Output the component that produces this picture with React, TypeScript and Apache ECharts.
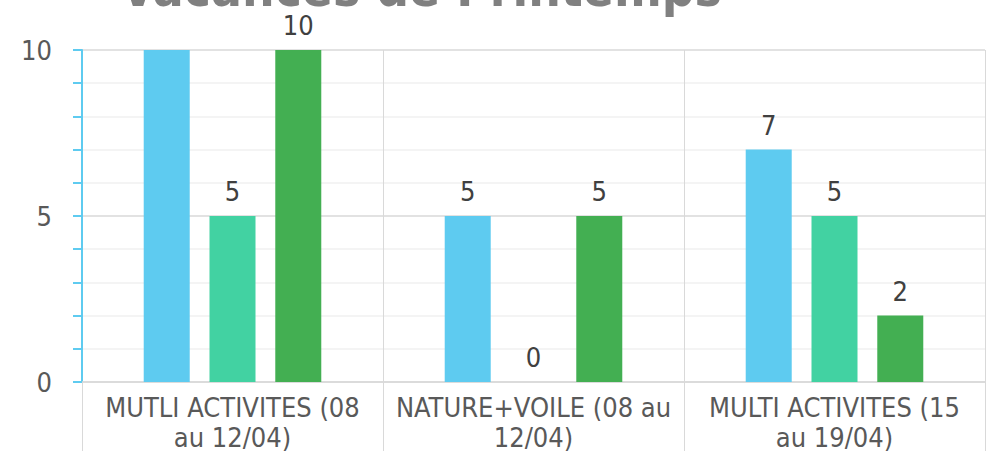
import React, { useEffect, useRef } from "react";
import * as echarts from "echarts";

const title = "Vacances de Printemps";
const categories = [
  "MUTLI ACTIVITES (08\nau 12/04)",
  "NATURE+VOILE (08 au\n12/04)",
  "MULTI ACTIVITES (15\nau 19/04)",
];
const seriesA = [10, 5, 7];
const seriesB = [5, 0, 5];
const seriesC = [10, 5, 2];
const colors = ["#5ECBF0", "#42D2A2", "#43AF52"];
const hiddenLabels = [[0, 0]]; // [seriesIndex, dataIndex] labels not visible in reference

const FONT = "'DejaVu Sans Condensed', 'DejaVu Sans', sans-serif";

export default function App() {
  const ref = useRef<HTMLDivElement>(null);
  useEffect(() => {
    if (!ref.current) return;
    const chart = echarts.init(ref.current, undefined, { renderer: "svg" });
    const all = [seriesA, seriesB, seriesC];
    chart.setOption({
      animation: false,
      grid: {
        left: 82,
        right: 14,
        top: 50,
        bottom: 69,
        containLabel: false,
        outerBoundsMode: "none",
      },
      graphic: [
        {
          type: "text",
          x: 421,
          y: -37,
          style: {
            text: title,
            font: `bold 51px ${FONT}`,
            fill: "#808080",
            align: "center",
            verticalAlign: "top",
          },
        },
      ],
      xAxis: {
        type: "category",
        data: categories,
        axisLine: { show: true, lineStyle: { color: "#d9d9d9", width: 1.5 } },
        axisTick: { show: true, length: 70, lineStyle: { color: "#d9d9d9" } },
        splitLine: { show: true, lineStyle: { color: "#d9d9d9" } },
        axisLabel: {
          color: "#595959",
          fontSize: 27,
          fontFamily: FONT,
          lineHeight: 30,
          margin: 10,
          interval: 0,
        },
      },
      yAxis: {
        type: "value",
        min: 0,
        max: 10,
        interval: 5,
        axisLine: { show: true, lineStyle: { color: "#5ECBF0", width: 2 } },
        axisTick: { show: true, length: 9, lineStyle: { color: "#5ECBF0", width: 2 } },
        minorTick: { show: true, splitNumber: 5, length: 9, lineStyle: { color: "#5ECBF0", width: 2 } },
        splitLine: { show: true, lineStyle: { color: "#d9d9d9", width: 1.5 } },
        minorSplitLine: { show: true, lineStyle: { color: "#f0f0f0", width: 1.5 } },
        axisLabel: { color: "#595959", fontSize: 27, fontFamily: FONT, margin: 30 },
      },
      series: all.map((vals, si) => ({
        type: "bar",
        barWidth: 46,
        barGap: "43%",
        itemStyle: { color: colors[si] },
        label: {
          show: true,
          position: "top",
          distance: 11,
          color: "#404040",
          fontSize: 27,
          fontFamily: FONT,
        },
        data: vals.map((v, di) =>
          hiddenLabels.some(([s, d]) => s === si && d === di)
            ? { value: v, label: { show: false } }
            : v
        ),
      })),
    });
    return () => chart.dispose();
  }, []);
  return (
    <div
      ref={ref}
      style={{ position: "absolute", left: 0, top: 0, width: 999, height: 451 }}
    />
  );
}
